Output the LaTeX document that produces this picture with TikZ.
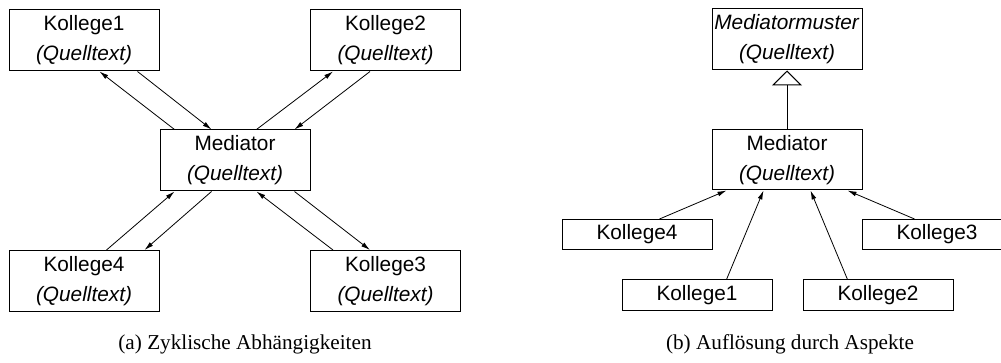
\documentclass[tikz,border=0pt]{standalone}
\usepackage{fontspec}
\setmainfont{Liberation Serif}
\setsansfont{Liberation Sans}
\usetikzlibrary{arrows.meta,calc}
\begin{document}
\begin{tikzpicture}[x=0.5pt,y=-0.5pt,
  box/.style={draw, line width=0.5pt, minimum width=75pt, minimum height=30.5pt,
    inner sep=0pt, align=center, font=\sffamily\fontsize{10.4}{15}\selectfont},
  smallbox/.style={box, minimum height=15pt},
  msg/.style={line width=0.4pt, -{Latex[length=4.5pt,width=2.4pt]}},
  inherit/.style={line width=0.5pt, -{Triangle[open,length=7.5pt,width=15pt,fill=white]}},
  caption/.style={font=\fontsize{10.6}{12}\selectfont}]
\useasboundingbox (0,0) rectangle (1001,363);
\clip (0,0) rectangle (1001,363);

% (a) every colleague talks to the mediator and back
\node[box] (k1) at (84,40.5)   {Kollege1\\\textit{(Quelltext)}};
\node[box] (k2) at (385.5,40.5) {Kollege2\\\textit{(Quelltext)}};
\node[box] (med) at (235,160.5) {Mediator\\\textit{(Quelltext)}};
\node[box] (k4) at (84,281)    {Kollege4\\\textit{(Quelltext)}};
\node[box] (k3) at (385.5,281) {Kollege3\\\textit{(Quelltext)}};

\draw[msg] ($(med.north west)+(15,0)$) -- ($(k1.south west)+(91,0)$);
\draw[msg] ($(k1.south west)+(129,0)$) -- ($(med.north west)+(52,0)$);
\draw[msg] ($(med.north west)+(97,0)$) -- ($(k2.south west)+(23,0)$);
\draw[msg] ($(k2.south west)+(60,0)$) -- ($(med.north west)+(135,0)$);
\draw[msg] ($(k4.north west)+(98,0)$) -- ($(med.south west)+(15,0)$);
\draw[msg] ($(med.south west)+(52,0)$) -- ($(k4.north west)+(136,0)$);
\draw[msg] ($(k3.north west)+(23,0)$) -- ($(med.south west)+(97,0)$);
\draw[msg] ($(med.south west)+(135,0)$) -- ($(k3.north west)+(60,0)$);

\node[caption] (capa) at (245,344) {(a) Zyklische Abhängigkeiten};

% (b) the mediator pattern as an aspect
\node[box] (mm) at (787,39.5) {\textit{Mediatormuster}\\\textit{(Quelltext)}};
\node[box, minimum height=30pt] (med2) at (787,160) {Mediator\\\textit{(Quelltext)}};
\node[smallbox] (b4) at (637,234.5) {Kollege4};
\node[smallbox] (b3) at (937,234.5) {Kollege3};
\node[smallbox] (b1) at (697,295) {Kollege1};
\node[smallbox] (b2) at (878,295) {Kollege2};

\draw[inherit] (med2.north) -- (mm.south);
\draw[msg] ($(b4.north west)+(98,0)$) -- ($(med2.south west)+(15,0)$);
\draw[msg] ($(b1.north west)+(105,0)$) -- ($(med2.south west)+(52,0)$);
\draw[msg] ($(b2.north west)+(45,0)$) -- ($(med2.south west)+(99,0)$);
\draw[msg] ($(b3.north west)+(53,0)$) -- ($(med2.south west)+(136,0)$);

\node[caption] (capb) at (790,344) {(b) Auflösung durch Aspekte};
\end{tikzpicture}
\end{document}
